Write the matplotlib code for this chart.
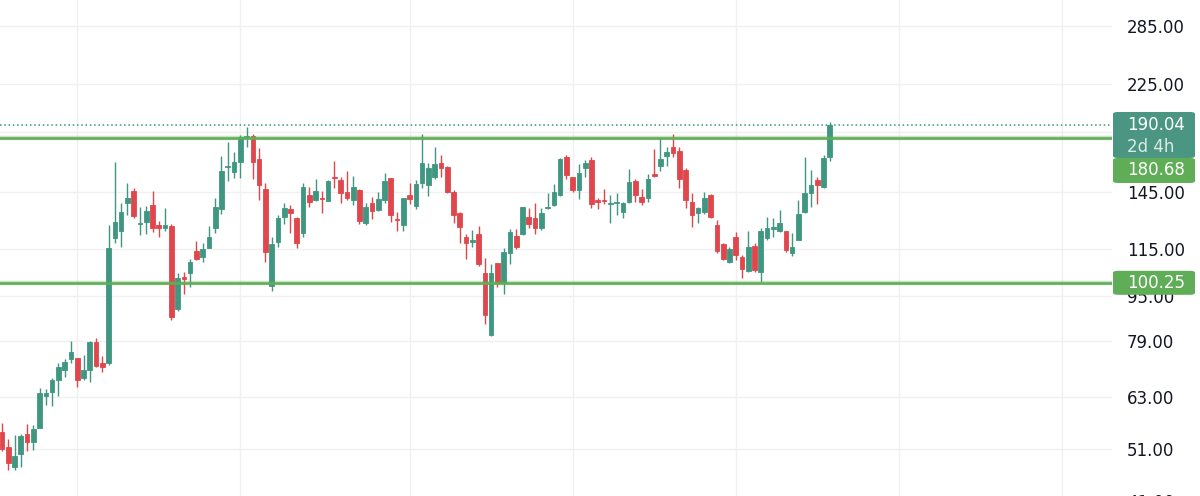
import matplotlib
matplotlib.use('Agg')
import matplotlib.pyplot as plt
from matplotlib.patches import FancyBboxPatch
from matplotlib.transforms import blended_transform_factory
import numpy as np

# 蜡烛数据
opens = [54.7, 51.5, 47.5, 49.9, 54.2, 52.5, 55.6, 63.3, 64.2, 67.5,
         70.3, 73.5, 73.7, 68.0, 70.3, 78.7, 72.3, 72.3, 120.1, 123.9,
         138.8, 145.8, 127.2, 128.5, 137.5, 126.6, 125.4, 126.3, 90.1, 102.5,
         104.2, 114.2, 111.2, 115.6, 125.1, 135.3, 160.3, 157.1, 163.6, 181.1,
         182.3, 165.6, 146.6, 99.0, 118.2, 131.2, 135.2, 130.3, 122.9, 143.2,
         140.4, 141.5, 140.0, 153.9, 152.2, 145.2, 140.4, 146.2, 127.7, 138.8,
         134.8, 140.4, 153.3, 130.1, 126.8, 143.0, 137.0, 150.2, 149.2, 153.9,
         163.3, 160.7, 145.2, 133.3, 120.9, 118.2, 122.2, 104.5, 81.1, 108.5,
         100.3, 113.0, 121.2, 122.1, 130.9, 130.3, 125.1, 135.7, 137.5, 143.2,
         167.3, 153.9, 146.2, 159.6, 165.1, 140.4, 140.2, 137.9, 138.5, 133.9,
         139.5, 151.6, 142.2, 141.3, 156.0, 161.2, 167.8, 174.3, 171.3, 158.6,
         139.5, 133.0, 133.9, 143.2, 126.8, 117.2, 109.0, 120.6, 111.4, 105.2,
         116.6, 104.9, 120.4, 124.9, 123.7, 123.7, 113.0, 119.4, 133.5, 144.2,
         152.2, 148.2, 167.3]
highs = [56.7, 53.1, 54.0, 54.2, 56.4, 56.2, 65.3, 65.0, 68.0, 72.3,
         73.4, 79.1, 73.8, 74.8, 79.2, 80.2, 74.5, 126.8, 164.0, 138.5,
         150.2, 147.2, 136.2, 137.0, 145.6, 128.9, 135.7, 127.3, 104.2, 104.9,
         110.3, 118.8, 117.7, 126.3, 141.3, 167.8, 177.9, 170.8, 182.8, 189.1,
         183.5, 173.2, 150.6, 120.6, 132.1, 138.5, 137.5, 131.2, 150.6, 147.8,
         152.6, 145.6, 152.2, 164.6, 154.3, 158.0, 154.8, 146.6, 138.5, 142.2,
         144.8, 156.9, 153.6, 133.5, 141.8, 150.2, 152.2, 183.5, 163.3, 174.3,
         168.5, 161.2, 146.2, 133.8, 122.2, 124.2, 126.3, 110.7, 108.2, 108.8,
         115.3, 124.6, 124.6, 136.6, 135.7, 138.8, 135.7, 144.6, 149.6, 166.3,
         168.5, 154.3, 162.4, 165.1, 166.9, 141.3, 146.6, 143.2, 144.2, 139.5,
         159.0, 152.6, 146.6, 156.2, 172.5, 180.3, 174.3, 183.5, 173.9, 159.6,
         144.2, 136.2, 144.8, 143.6, 129.4, 117.7, 116.1, 123.0, 112.2, 123.7,
         117.7, 125.1, 131.2, 130.6, 134.8, 124.0, 122.6, 140.4, 167.3, 158.6,
         154.3, 168.5, 193.0]
lows = [50.5, 46.8, 46.9, 47.5, 50.5, 50.9, 55.5, 61.0, 60.8, 63.2,
        68.4, 72.3, 65.6, 67.5, 67.0, 71.3, 69.8, 71.8, 117.7, 116.1,
        132.1, 130.7, 121.7, 122.2, 123.4, 120.6, 123.9, 86.2, 89.5, 95.8,
        98.5, 110.0, 109.3, 115.5, 122.9, 132.6, 151.6, 153.3, 153.3, 173.9,
        152.6, 140.4, 109.3, 97.1, 116.1, 127.3, 122.6, 115.3, 120.9, 136.6,
        140.0, 133.3, 139.9, 147.6, 138.8, 140.4, 137.5, 127.3, 127.0, 129.9,
        134.4, 138.5, 128.5, 123.7, 123.7, 138.1, 135.2, 147.2, 142.6, 152.7,
        154.3, 144.2, 127.7, 118.0, 110.3, 115.8, 107.4, 84.8, 80.6, 98.7,
        95.8, 108.2, 114.8, 121.7, 125.1, 122.2, 124.2, 135.2, 137.0, 142.6,
        152.6, 144.8, 141.0, 153.9, 135.7, 135.2, 138.1, 127.7, 132.1, 130.7,
        138.8, 139.5, 137.5, 139.0, 153.9, 157.9, 161.2, 166.9, 147.2, 135.7,
        125.9, 127.7, 132.7, 130.7, 113.2, 110.0, 108.5, 110.0, 102.4, 104.9,
        104.9, 100.7, 119.3, 121.0, 123.0, 113.7, 111.9, 119.3, 133.4, 136.6,
        137.9, 147.6, 164.7]
closes = [51.1, 48.1, 49.5, 53.8, 52.5, 55.3, 64.1, 64.1, 67.5, 71.3,
          72.6, 75.6, 67.5, 70.3, 78.9, 71.5, 71.3, 115.3, 128.5, 133.5,
          141.8, 131.6, 127.7, 134.4, 125.4, 125.4, 126.6, 87.3, 102.1, 101.9,
          109.3, 110.4, 114.8, 120.9, 136.6, 158.0, 161.2, 163.6, 181.1, 182.1,
          164.0, 149.2, 113.7, 117.4, 130.6, 135.7, 133.3, 117.7, 147.8, 139.0,
          145.8, 140.9, 151.6, 153.3, 144.2, 141.6, 147.8, 129.0, 136.2, 134.4,
          141.1, 151.8, 132.1, 129.4, 141.3, 140.9, 149.6, 162.9, 159.6, 162.4,
          159.6, 145.2, 132.1, 125.9, 118.0, 119.3, 108.1, 87.9, 104.5, 100.7,
          113.7, 123.4, 115.8, 136.2, 127.3, 125.1, 133.3, 136.2, 145.2, 165.6,
          155.4, 146.2, 156.9, 163.3, 137.9, 139.0, 139.8, 138.5, 139.0, 138.5,
          150.8, 143.2, 139.5, 152.6, 155.0, 165.6, 170.8, 170.1, 152.6, 140.4,
          132.1, 135.7, 141.3, 131.2, 114.0, 110.4, 115.0, 112.2, 106.0, 116.1,
          105.6, 123.9, 125.1, 125.6, 127.7, 114.5, 116.0, 132.5, 144.2, 149.2,
          149.2, 166.6, 190.04]

# 水平支撑/阻力线和当前价
resistance = 180.68
support = 100.25
last_price = 190.04
countdown = '2d 4h'

price_ticks = [51, 63, 79, 95, 115, 145, 185, 225, 285]
tick_labels = ['51.00', '63.00', '79.00', '95.00', '115.00', '145.00', '', '225.00', '285.00']
time_grid = [12, 38, 65, 91, 117, 143, 169]

UP = '#3f9781'
DOWN = '#e0474c'
LINE_GREEN = '#5fad56'
TEAL = '#4a9682'
DOT = '#2f9a7e'
GRID = '#f0f0f0'
TXT = '#131722'

W, H = 1200, 496
fig = plt.figure(figsize=(W / 100, H / 100), dpi=100)
ax = fig.add_axes([0, 0, 1112 / W, 1])

ax.set_yscale('log')
ax.set_ylim(42.14, 316.5)
ax.set_xlim(-0.32, 177.0)

x = np.arange(len(opens))
o = np.array(opens)
c = np.array(closes)
hi = np.array(highs)
lo = np.array(lows)
cols = [UP if cc >= oo else DOWN for oo, cc in zip(o, c)]

ax.vlines(x, lo, hi, colors=cols, linewidth=1.0, zorder=3)
ax.bar(x, np.abs(c - o), bottom=np.minimum(o, c), width=0.74,
       color=cols, edgecolor=cols, linewidth=0.6, zorder=4)

# 网格
ax.set_yticks(price_ticks)
ax.set_yticklabels(tick_labels)
ax.yaxis.set_minor_locator(matplotlib.ticker.NullLocator())
ax.set_xticks(time_grid)
ax.set_xticklabels([])
ax.grid(True, color=GRID, linewidth=1.0, zorder=0)
ax.yaxis.tick_right()
ax.tick_params(axis='y', length=0, pad=10.8, labelsize=12, labelcolor=TXT)
ax.tick_params(axis='x', length=0)
for s in ax.spines.values():
    s.set_visible(False)

# 水平线
for lvl in (resistance, support):
    ax.axhline(lvl, color=LINE_GREEN, linewidth=3.2, alpha=0.35, zorder=5)
    ax.axhline(lvl, color=LINE_GREEN, linewidth=1.8, zorder=6)
ax.axhline(last_price, color=DOT, linewidth=1.1, linestyle=(0, (1.0, 1.8)), zorder=5)

# 41.00 (被底边截断)
tr = blended_transform_factory(ax.transAxes, ax.transData)
ax.text(1127 / 1112, 41, '41.00', transform=tr, ha='left', va='center',
        fontsize=12, color=TXT, clip_on=False)


def py(price):
    return ax.transData.transform((0, price))[1]


def label_box(y_top, y_bot, color):
    p = FancyBboxPatch((1113 / W, y_bot / H), 82 / W, (y_top - y_bot) / H,
                       boxstyle='round,pad=0,rounding_size=0.004',
                       transform=fig.transFigure, facecolor=color,
                       edgecolor='none', zorder=10)
    fig.add_artist(p)


yl = py(last_price)
label_box(yl + 13.5, yl - 32.5, TEAL)
fig.text(1127 / W, yl / H, f'{last_price:.2f}', color='white', fontsize=12,
         ha='left', va='center', zorder=11)
fig.text(1127 / W, (yl - 21.5) / H, countdown, color='white', alpha=0.8,
         fontsize=12, ha='left', va='center', zorder=11)

label_box(yl - 32.5, yl - 57.5, LINE_GREEN)
fig.text(1127 / W, (yl - 45) / H, f'{resistance:.2f}', color='white', fontsize=12,
         ha='left', va='center', zorder=11)

ys = py(support)
label_box(ys + 12, ys - 12, LINE_GREEN)
fig.text(1127 / W, ys / H, f'{support:.2f}', color='white', fontsize=12,
         ha='left', va='center', zorder=11)

fig.savefig('out.png', dpi=100)
plt.close(fig)
